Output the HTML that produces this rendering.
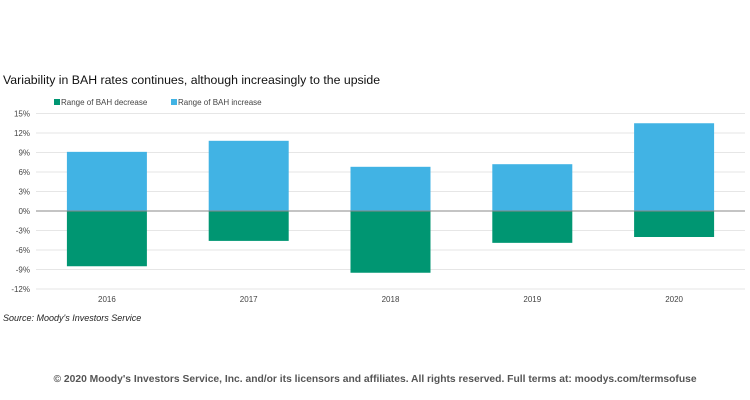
<!DOCTYPE html>
<html><head><meta charset="utf-8"><style>
body{margin:0;background:#fff;width:750px;height:400px;overflow:hidden;font-family:"Liberation Sans",sans-serif}
svg{display:block}
</style></head><body>
<svg width="750" height="400" id="chart">
<text x="3" y="84" font-size="12.3" fill="#111">Variability in BAH rates continues, although increasingly to the upside</text>
<g>
<rect x="54" y="99" width="6" height="6" fill="#009672"/>
<text x="61" y="105" font-size="8" fill="#444">Range of BAH decrease</text>
<rect x="171" y="99" width="6" height="6" fill="#41b3e4"/>
<text x="178" y="105" font-size="8" fill="#444">Range of BAH increase</text>
</g>
<g id="grid"></g><g id="bars"></g><g id="axes"></g>
<text x="3" y="321" font-size="9" font-style="italic" fill="#222">Source: Moody's Investors Service</text>
<text x="375" y="382" font-size="10.3" fill="#555" text-anchor="middle" font-weight="bold">© 2020 Moody's Investors Service, Inc. and/or its licensors and affiliates. All rights reserved. Full terms at: moodys.com/termsofuse</text>
</svg>
<script>
const categories=["2016","2017","2018","2019","2020"];
const increaseValues=[9.1,10.8,6.8,7.2,13.5];
const decreaseValues=[-8.5,-4.6,-9.5,-4.9,-4.0];
const yTicks=[15,12,9,6,3,0,-3,-6,-9,-12];
const NS="http://www.w3.org/2000/svg";
const L=36,R=745,Y0=211,PX=6.5;
const y=v=>Y0-v*PX;
const band=(R-L)/categories.length;
const xc=i=>L+band*(i+0.5);
const BW=80;
function mk(tag,attrs,parent){const e=document.createElementNS(NS,tag);for(const k in attrs)e.setAttribute(k,attrs[k]);document.getElementById(parent).appendChild(e);return e;}
yTicks.forEach(t=>{
  if(t!==0){const g=mk("line",{x1:L,x2:R,y1:y(t),y2:y(t),stroke:"#e6e6e6","stroke-width":1},"grid");
  
  }
  const tx=mk("text",{x:30,y:y(t)+3,"font-size":8,fill:"#444","text-anchor":"end"},"axes");
  tx.textContent=t+"%";
  
  
});
categories.forEach((c,i)=>{
  const b1=mk("rect",{x:xc(i)-BW/2,y:y(increaseValues[i]),width:BW,height:y(0)-y(increaseValues[i]),fill:"#41b3e4"},"bars");
  
  
  const b2=mk("rect",{x:xc(i)-BW/2,y:y(0),width:BW,height:y(decreaseValues[i])-y(0),fill:"#009672"},"bars");
  
  
  const tx=mk("text",{x:xc(i),y:302,"font-size":8,fill:"#444","text-anchor":"middle"},"axes");
  tx.textContent=c;
  
  
});
const z=mk("line",{x1:L,x2:R,y1:y(0),y2:y(0),stroke:"#888","stroke-width":1},"axes");


</script>
</body></html>
